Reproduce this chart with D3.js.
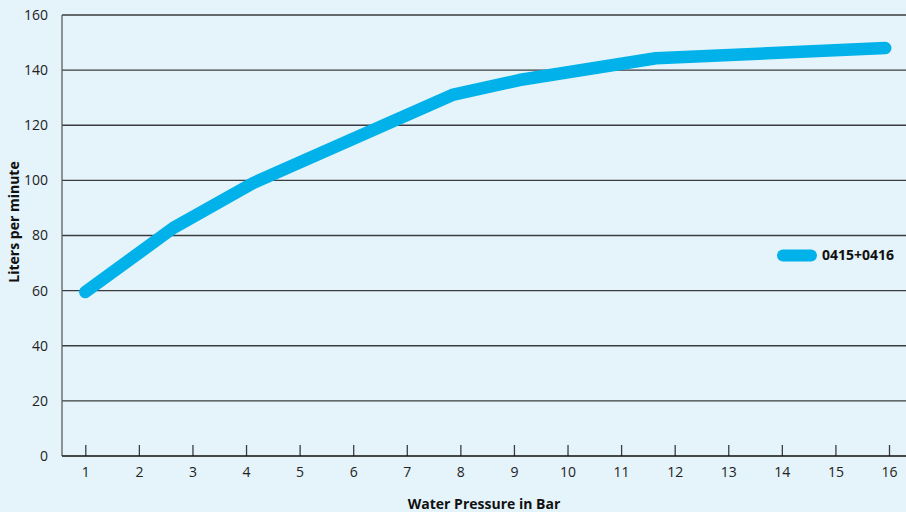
<!DOCTYPE html>
<html>
<head>
<meta charset="utf-8">
<script src="https://cdn.jsdelivr.net/npm/d3@7"></script>
<style>
  html, body { margin: 0; padding: 0; background: #e5f3fa; }
  svg { display: block; font-family: "Open Sans", "Noto Sans", sans-serif; }
</style>
</head>
<body>
<svg id="chart" width="906" height="512"></svg>
<script>
// Data
const pressureBar = [1.0, 2.64, 4.13, 7.85, 9.1, 11.65, 15.93];
const litersPerMinute = [59.5, 82.7, 99, 131, 136.4, 144.3, 148];
const xTickLabels = [1, 2, 3, 4, 5, 6, 7, 8, 9, 10, 11, 12, 13, 14, 15, 16];
const yTickLabels = [0, 20, 40, 60, 80, 100, 120, 140, 160];
const seriesName = "0415+0416";
const xTitle = "Water Pressure in Bar";
const yTitle = "Liters per minute";

const svg = d3.select("#chart");
const W = 906, H = 512;
svg.append("rect").attr("width", W).attr("height", H).attr("fill", "#e5f3fa");

const plotLeft = 62, plotRight = 906, plotTop = 15, plotBottom = 456;

const x = d3.scaleLinear().domain([1, 16]).range([85.3, 889]);
const y = d3.scaleLinear().domain([0, 160]).range([plotBottom, plotTop]);

// Gridlines
svg.append("g")
  .selectAll("line")
  .data(yTickLabels.filter(d => d > 0))
  .join("line")
  .attr("x1", plotLeft).attr("x2", plotRight)
  .attr("y1", d => y(d)).attr("y2", d => y(d))
  .attr("stroke", "#3a3d40").attr("stroke-width", 1.3);

// Y axis line
svg.append("line")
  .attr("x1", plotLeft).attr("x2", plotLeft)
  .attr("y1", plotTop).attr("y2", plotBottom)
  .attr("stroke", "#5a5e62").attr("stroke-width", 1.3);

// Y labels
svg.append("g")
  .selectAll("text")
  .data(yTickLabels)
  .join("text")
  .attr("x", 48).attr("y", d => y(d))
  .attr("dy", "0.35em")
  .attr("text-anchor", "end")
  .attr("font-size", 14)
  .attr("fill", "#222")
  .text(d => d);

// X axis
const xAxis = d3.axisBottom(x)
  .tickValues(xTickLabels)
  .tickSize(-11)
  .tickPadding(0)
  .tickFormat(d3.format("d"));
const gx = svg.append("g").attr("transform", `translate(0,${plotBottom})`).call(xAxis);
gx.select(".domain").remove();
gx.selectAll(".tick line").attr("stroke", "#3a3d40").attr("stroke-width", 1.3);
gx.selectAll(".tick text")
  .attr("y", 21).attr("dy", 0)
  .attr("font-size", 14)
  .attr("font-family", "'Open Sans', 'Noto Sans', sans-serif")
  .attr("fill", "#222");
svg.append("line")
  .attr("x1", plotLeft).attr("x2", plotRight)
  .attr("y1", plotBottom).attr("y2", plotBottom)
  .attr("stroke", "#111").attr("stroke-width", 1.5);

// Line
const data = pressureBar.map((p, i) => ({ p, v: litersPerMinute[i] }));
svg.append("path")
  .datum(data)
  .attr("fill", "none")
  .attr("stroke", "#00b2e9")
  .attr("stroke-width", 12.5)
  .attr("stroke-linecap", "round")
  .attr("stroke-linejoin", "round")
  .attr("d", d3.line().x(d => x(d.p)).y(d => y(d.v)));

// Legend
const lg = svg.append("g").attr("transform", "translate(783,255.5)");
lg.append("line")
  .attr("x1", 0).attr("x2", 28)
  .attr("stroke", "#00b2e9").attr("stroke-width", 12)
  .attr("stroke-linecap", "round");
lg.append("text")
  .attr("x", 39).attr("y", 0).attr("dy", "0.35em")
  .attr("font-size", 14).attr("font-weight", "bold")
  .attr("fill", "#111")
  .text(seriesName);

// Axis titles
svg.append("text")
  .attr("x", 484).attr("y", 509)
  .attr("text-anchor", "middle")
  .attr("font-size", 14).attr("font-weight", "bold")
  .attr("fill", "#111")
  .text(xTitle);
svg.append("text")
  .attr("transform", "translate(19,222) rotate(-90)")
  .attr("text-anchor", "middle")
  .attr("font-size", 14).attr("font-weight", "bold")
  .attr("fill", "#111")
  .text(yTitle);
</script>
</body>
</html>
